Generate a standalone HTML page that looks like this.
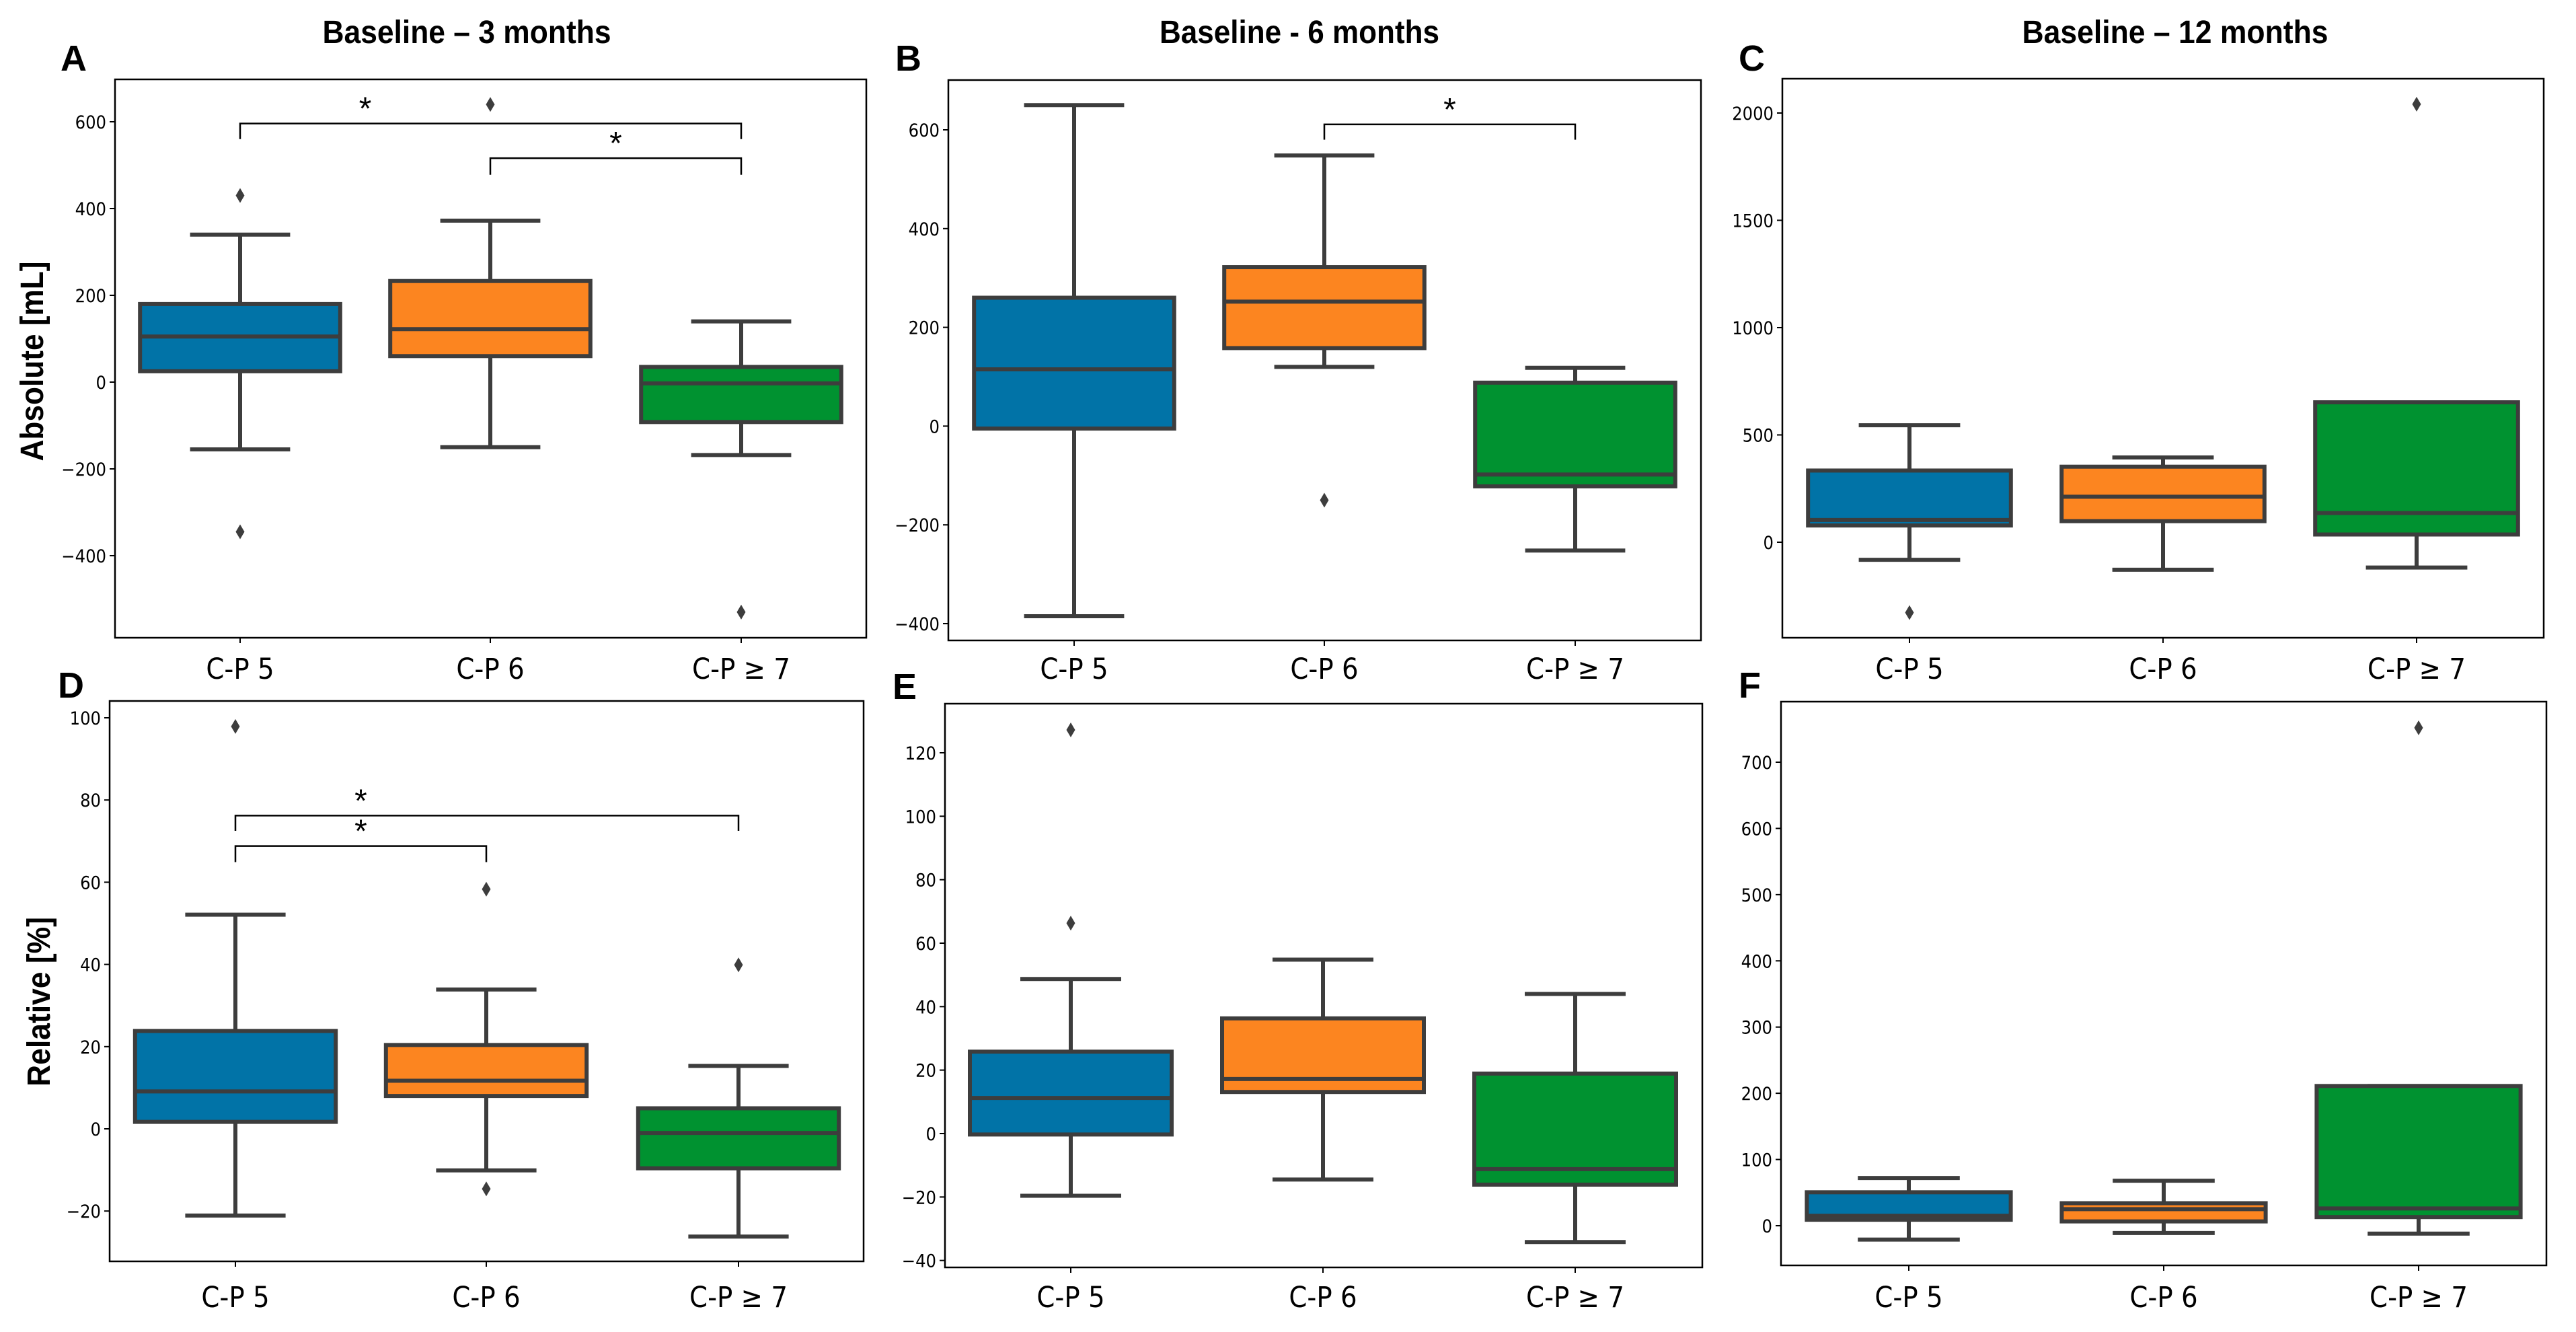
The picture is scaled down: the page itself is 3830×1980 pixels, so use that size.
<!DOCTYPE html>
<html><head><meta charset="utf-8"><style>
html,body{margin:0;padding:0;background:#fff;}
svg{display:block;}
.tick{font-family:"DejaVu Sans Condensed","DejaVu Sans",sans-serif;font-stretch:condensed;font-size:27px;fill:#000;}
.cat{font-family:"DejaVu Sans Condensed","DejaVu Sans",sans-serif;font-stretch:condensed;font-size:43px;fill:#000;}
.title{font-family:"Liberation Sans",sans-serif;font-weight:bold;font-size:48px;fill:#000;}
.letter{font-family:"Liberation Sans",sans-serif;font-weight:bold;font-size:54px;fill:#000;}
.star{font-family:"Liberation Sans",sans-serif;font-size:48px;fill:#000;}
</style></head><body>
<svg id="fig" width="3830" height="1980" viewBox="0 0 3830 1980" xmlns="http://www.w3.org/2000/svg">
<text class="title" x="694" y="64" text-anchor="middle" textLength="429" lengthAdjust="spacingAndGlyphs">Baseline – 3 months</text>
<text class="title" x="1932" y="64" text-anchor="middle" textLength="416" lengthAdjust="spacingAndGlyphs">Baseline - 6 months</text>
<text class="title" x="3234" y="64" text-anchor="middle" textLength="455" lengthAdjust="spacingAndGlyphs">Baseline – 12 months</text>
<text class="title" transform="translate(64,537) rotate(-90)" text-anchor="middle" textLength="297" lengthAdjust="spacingAndGlyphs">Absolute [mL]</text>
<text class="title" transform="translate(74,1489) rotate(-90)" text-anchor="middle" textLength="252" lengthAdjust="spacingAndGlyphs">Relative [%]</text>
</svg>
<script>
const categories = ["C-P 5", "C-P 6", "C-P \u2265 7"];
// panel A (absolute, 3 months): [lowWhisker, q1, median, q3, highWhisker]
const boxesA = [[-155, 25, 105, 180, 340], [-150, 60, 122, 233, 372], [-168, -92, -3, 35, 140]];
const outliersA = [[430, -345], [640], [-530]];
const ticksA = [-400, -200, 0, 200, 400, 600];
const bracketsA = [[0, 2, 596, 560, 0.5], [1, 2, 516, 478, 1.5]];
// panel B
const boxesB = [[-385, -5, 115, 260, 650], [120, 158, 252, 322, 548], [-252, -122, -98, 88, 118]];
const outliersB = [[], [-150], []];
const ticksB = [-400, -200, 0, 200, 400, 600];
const bracketsB = [[1, 2, 611, 580, 1.5]];
// panel C
const boxesC = [[-82, 78, 104, 334, 545], [-128, 98, 212, 352, 395], [-118, 36, 136, 652, 652]];
const outliersC = [[-328], [], [2041]];
const ticksC = [0, 500, 1000, 1500, 2000];
const bracketsC = [];
// panel D
const boxesD = [[-21.1, 1.7, 9.1, 23.8, 52.1], [-10.1, 8.0, 11.7, 20.4, 33.9], [-26.2, -9.6, -1.0, 5.0, 15.3]];
const outliersD = [[97.9], [58.3, -14.6], [39.9]];
const ticksD = [-20, 0, 20, 40, 60, 80, 100];
const bracketsD = [[0, 2, 76.2, 72.5, 0.5], [0, 1, 68.8, 64.9, 0.5]];
// panel E
const boxesE = [[-19.6, -0.3, 11.2, 25.8, 48.7], [-14.5, 13.1, 17.2, 36.3, 54.8], [-34.2, -16.1, -11.2, 18.9, 44]];
const outliersE = [[127.2, 66.3], [], []];
const ticksE = [-40, -20, 0, 20, 40, 60, 80, 100, 120];
const bracketsE = [];
// panel F
const boxesF = [[-21, 9, 15, 50.5, 72], [-11, 6.5, 25, 34, 68], [-12, 13, 26, 211, 211]];
const outliersF = [[], [], [752]];
const ticksF = [0, 100, 200, 300, 400, 500, 600, 700];
const bracketsF = [];

const colors = ["#0173a7", "#fc8520", "#009230"];
const NS = "http://www.w3.org/2000/svg";
const svg = document.getElementById("fig");
function mk(tag, attrs, parent) {
  const e = document.createElementNS(NS, tag);
  for (const k in attrs) e.setAttribute(k, attrs[k]);
  (parent || svg).appendChild(e);
  return e;
}
const panels = [
  {id:"a", letter:"A", lx:90, ly:105, x0:171, x1:1288, y0:118, y1:948, v0:0, p0:568, v1:600, p1:181, cx:[357,729,1102], boxes:boxesA, outs:outliersA, ticks:ticksA, br:bracketsA, catY:1009},
  {id:"b", letter:"B", lx:1331, ly:105, x0:1410, x1:2529, y0:119, y1:952, v0:-400, p0:927, v1:600, p1:193, cx:[1597,1969,2342], boxes:boxesB, outs:outliersB, ticks:ticksB, br:bracketsB, catY:1009},
  {id:"c", letter:"C", lx:2585, ly:105, x0:2650, x1:3782, y0:117, y1:948, v0:0, p0:806, v1:2000, p1:168, cx:[2839,3216,3593], boxes:boxesC, outs:outliersC, ticks:ticksC, br:bracketsC, catY:1009},
  {id:"d", letter:"D", lx:86, ly:1037, x0:163, x1:1284, y0:1042, y1:1875, v0:0, p0:1678, v1:100, p1:1067, cx:[350,723,1098], boxes:boxesD, outs:outliersD, ticks:ticksD, br:bracketsD, catY:1943},
  {id:"e", letter:"E", lx:1327, ly:1039, x0:1405, x1:2531, y0:1046, y1:1884, v0:0, p0:1685, v1:120, p1:1119, cx:[1592,1967,2342], boxes:boxesE, outs:outliersE, ticks:ticksE, br:bracketsE, catY:1943},
  {id:"f", letter:"F", lx:2585, ly:1037, x0:2648, x1:3786, y0:1043, y1:1881, v0:0, p0:1822, v1:700, p1:1133, cx:[2838,3217,3596], boxes:boxesF, outs:outliersF, ticks:ticksF, br:bracketsF, catY:1943}
];
panels.forEach(P => {
  const g = mk("g", {});
  
  
  const y = v => P.p0 + (v - P.v0) * (P.p1 - P.p0) / (P.v1 - P.v0);
  const x = i => { const f = Math.floor(i), r = i - f; return f + 1 < P.cx.length ? P.cx[f] + r * (P.cx[f+1] - P.cx[f]) : P.cx[f]; };
  const step = P.cx[1] - P.cx[0];
  const bw = step * 0.8, cw = bw / 2;
  const lt = mk("text", {class:"letter", x:P.lx, y:P.ly}, g);
  lt.textContent = P.letter;
  
  
  P.ticks.forEach(t => {
    const ty = y(t);
    const tl = mk("line", {x1:P.x0-8, x2:P.x0, y1:ty, y2:ty, stroke:"#000", "stroke-width":2}, g);
    
    
    const tx = mk("text", {class:"tick", x:P.x0-13, y:ty+10, "text-anchor":"end"}, g);
    tx.textContent = String(t).replace("-", "\u2212");
    
    
  });
  P.boxes.forEach((b, i) => {
    const c = x(i);
    const bg = mk("g", {}, g);
    
    
    const st = {stroke:"#3d3d3d", "stroke-width":6};
    mk("line", Object.assign({x1:c, x2:c, y1:y(b[0]), y2:y(b[1])}, st), bg);
    mk("line", Object.assign({x1:c, x2:c, y1:y(b[3]), y2:y(b[4])}, st), bg);
    mk("line", Object.assign({x1:c-cw/2, x2:c+cw/2, y1:y(b[0]), y2:y(b[0])}, st), bg);
    mk("line", Object.assign({x1:c-cw/2, x2:c+cw/2, y1:y(b[4]), y2:y(b[4])}, st), bg);
    mk("rect", Object.assign({x:c-bw/2, y:y(b[3]), width:bw, height:Math.max(0.5, y(b[1]) - y(b[3])), fill:colors[i]}, st), bg);
    mk("line", Object.assign({x1:c-bw/2, x2:c+bw/2, y1:y(b[2]), y2:y(b[2])}, st), bg);
    P.outs[i].forEach(o => {
      const oy = y(o);
      const d = mk("path", {d:`M${c},${oy-11} L${c+6.5},${oy} L${c},${oy+11} L${c-6.5},${oy} Z`, fill:"#3d3d3d"}, bg);
      
      
    });
  });
  P.br.forEach(br => {
    const xa = x(br[0]), xb = x(br[1]), yt = y(br[2]), yd = y(br[3]);
    const p = mk("path", {d:`M${xa},${yd} L${xa},${yt} L${xb},${yt} L${xb},${yd}`, fill:"none", stroke:"#000", "stroke-width":2.5}, g);
    
    
    const s = mk("text", {class:"star", x:x(br[4]), y:yt-6, "text-anchor":"middle"}, g);
    s.textContent = "*";
    
    
  });
  const fr = mk("rect", {x:P.x0, y:P.y0, width:P.x1-P.x0, height:P.y1-P.y0, fill:"none", stroke:"#000", "stroke-width":2.5}, g);
  
  
  categories.forEach((cat, i) => {
    const c = x(i);
    const tl = mk("line", {x1:c, x2:c, y1:P.y1, y2:P.y1+8, stroke:"#000", "stroke-width":2}, g);
    
    
    const t = mk("text", {class:"cat", x:c, y:P.catY, "text-anchor":"middle"}, g);
    t.textContent = cat;
    
    
  });
});
</script>
</body></html>
